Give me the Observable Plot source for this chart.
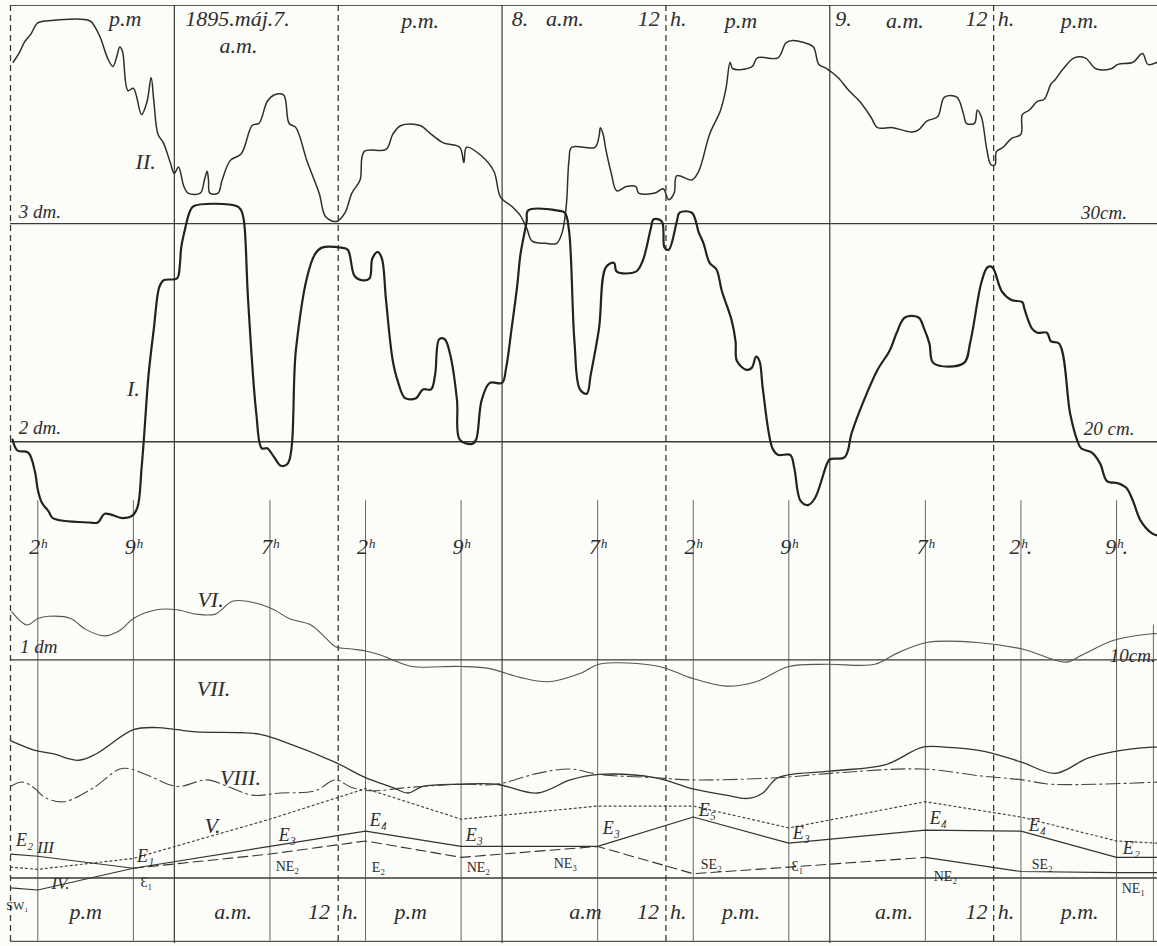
<!DOCTYPE html>
<html><head><meta charset="utf-8">
<script src="https://cdn.jsdelivr.net/npm/d3@7"></script>
<script src="https://cdn.jsdelivr.net/npm/@observablehq/plot@0.6"></script>
<style>html,body{margin:0;padding:0;background:#fcfcf8;} svg{display:block}</style>
</head><body><div id="chart"></div>
<script>
// x: hours counted from 1895 May 6, 0h ; y: water level / readings in cm
const seriesI = [[12.15,20.1],[12.5,19.6],[13.3,19.5],[13.8,18.6],[14.0,17.8],[14.3,17.2],[14.8,16.8],[15.1,16.5],[17.8,16.3],[18.4,16.3],[18.9,16.7],[20.2,16.5],[20.9,16.6],[21.3,17.0],[21.6,18.8],[21.8,20.4],[22.1,23.0],[22.5,25.2],[22.9,27.1],[23.2,27.4],[24.2,27.5],[24.4,28.1],[24.5,28.9],[24.8,29.8],[25.1,30.5],[25.4,30.8],[28.6,30.8],[28.9,30.6],[29.1,30.1],[29.4,26.5],[30.0,21.3],[30.4,19.7],[30.8,19.7],[31.3,19.3],[31.8,18.9],[32.3,19.0],[32.9,24.2],[33.7,27.5],[34.3,28.6],[34.8,28.9],[36.2,28.9],[36.7,28.8],[37.2,27.6],[37.8,27.4],[38.3,27.5],[38.5,28.4],[38.9,28.7],[39.2,28.4],[39.5,26.5],[40.0,23.7],[40.4,22.7],[40.9,22.0],[41.7,22.0],[42.2,22.4],[42.8,22.4],[43.1,23.1],[43.4,24.7],[43.8,24.7],[44.2,24.0],[44.7,21.9],[44.9,20.1],[45.8,19.9],[46.1,20.1],[46.5,21.9],[47.1,22.7],[48.0,22.7],[48.3,23.4],[48.7,25.2],[49.1,27.1],[49.35,28.6],[49.8,30.1],[49.9,30.6],[52.1,30.6],[52.6,30.5],[52.9,29.7],[53.3,24.6],[53.7,22.4],[54.2,22.2],[54.5,23.1],[55.1,25.2],[55.6,28.0],[56.2,28.2],[56.4,27.8],[57.8,27.8],[58.3,28.3],[58.9,29.8],[59.1,30.2],[59.7,30.1],[59.9,28.9],[60.2,28.8],[60.8,30.1],[61.0,30.5],[61.9,30.5],[62.4,29.6],[62.75,29.1],[63.2,28.2],[63.7,27.9],[64.1,26.9],[64.8,25.6],[65.1,24.6],[65.2,23.7],[65.9,23.3],[66.3,23.4],[66.6,23.9],[66.85,23.7],[67.1,22.4],[67.8,19.7],[68.2,19.4],[69.1,19.4],[69.4,18.8],[69.85,17.3],[70.4,17.1],[70.9,17.4],[71.8,19.0],[72.0,19.2],[73.1,19.3],[73.6,20.4],[74.5,21.9],[75.5,23.3],[76.4,24.2],[76.9,25.0],[77.5,25.7],[78.5,25.7],[78.9,25.2],[79.3,24.5],[79.6,23.6],[81.8,23.6],[82.3,24.6],[83.1,27.3],[83.55,28.0],[83.9,28.0],[84.6,26.9],[85.3,26.5],[86.1,26.4],[86.25,26.1],[86.8,25.2],[87.2,25.0],[87.9,25.0],[88.2,24.6],[88.8,24.5],[89.6,21.3],[90.1,20.1],[90.4,19.7],[91.2,19.5],[91.8,19.0],[92.3,18.2],[93.1,18.1],[93.7,17.9],[94.2,17.3],[94.75,16.4],[95.6,15.8],[96.0,15.7]];

const seriesII = [[12.2,37.4],[12.7,37.9],[13.0,38.3],[13.5,38.7],[14.0,39.2],[14.8,39.3],[17.8,39.3],[18.2,39.0],[18.6,38.5],[19.1,37.6],[19.5,37.2],[19.8,37.7],[20.0,38.1],[20.2,37.9],[20.6,36.1],[21.0,36.2],[21.6,35.0],[22.0,35.6],[22.3,36.7],[22.5,35.6],[22.8,34.1],[23.2,33.7],[23.7,32.8],[24.0,32.3],[24.3,32.6],[24.7,31.7],[25.0,31.4],[25.9,31.4],[26.2,32.0],[26.4,32.4],[26.5,32.0],[26.6,31.4],[27.2,31.4],[27.5,32.0],[28.1,32.9],[28.9,33.2],[29.7,34.5],[30.2,34.6],[30.8,35.6],[31.3,35.9],[32.0,35.9],[32.4,34.6],[32.9,34.4],[33.7,32.9],[34.6,31.4],[35.1,30.3],[35.9,30.1],[36.5,30.5],[37.0,31.4],[37.6,32.0],[37.9,33.3],[39.5,33.4],[40.0,34.1],[40.6,34.5],[42.0,34.5],[42.8,34.1],[43.7,33.7],[44.9,33.5],[45.2,32.8],[45.4,33.5],[46.5,33.1],[47.4,32.4],[47.9,31.2],[48.7,30.8],[49.3,30.4],[49.8,29.8],[50.2,29.2],[51.2,29.1],[52.0,29.1],[52.4,29.6],[52.7,30.8],[52.9,32.9],[53.1,33.5],[54.8,33.5],[55.1,34.0],[55.2,34.4],[55.4,34.1],[55.6,33.4],[56.0,32.3],[56.4,31.5],[57.1,31.7],[57.8,31.7],[58.0,31.4],[59.2,31.4],[59.8,31.6],[60.2,31.1],[60.6,31.4],[60.8,32.2],[61.9,32.0],[62.4,32.4],[63.2,34.1],[64.0,35.2],[64.4,36.2],[64.7,37.4],[64.9,37.1],[66.3,37.2],[66.7,37.6],[68.2,37.6],[68.8,38.3],[69.3,38.4],[70.1,38.3],[70.8,38.1],[71.2,37.3],[71.8,37.1],[72.6,36.7],[73.4,36.1],[74.2,35.6],[75.0,34.9],[75.5,34.4],[76.6,34.4],[78.0,34.2],[78.5,34.3],[79.1,34.7],[79.9,34.9],[80.4,35.8],[81.3,35.8],[81.8,35.0],[82.0,34.6],[82.6,34.6],[82.8,35.2],[83.1,34.9],[83.5,33.4],[83.8,32.7],[84.1,32.7],[84.2,33.3],[84.7,33.5],[85.3,33.9],[86.0,34.1],[86.1,35.0],[86.6,35.2],[87.2,35.6],[87.7,35.7],[88.2,36.4],[88.5,36.6],[89.1,37.1],[89.9,37.6],[90.7,37.6],[91.5,37.1],[92.6,37.1],[93.1,37.3],[94.2,37.4],[94.9,37.8],[95.3,37.3],[96.0,37.4]];

const seriesVI = [[12.1,12.2],[13.2,11.6],[14.0,11.9],[14.8,12.0],[16.4,11.9],[17.5,11.4],[18.9,11.1],[20.0,11.35],[21.0,11.9],[22.7,12.3],[24.2,12.3],[25.6,12.1],[27.0,12.1],[28.3,12.7],[30.0,12.6],[31.3,12.3],[32.4,11.9],[34.0,11.6],[35.1,11.0],[35.8,10.6],[37.0,10.5],[38.1,10.4],[39.2,10.2],[40.0,10.0],[41.4,9.7],[44.9,9.7],[47.1,9.6],[49.3,9.2],[51.4,9.0],[53.8,9.4],[55.1,9.8],[59.5,9.7],[61.7,9.2],[64.4,8.8],[66.6,9.0],[69.0,9.7],[71.8,9.8],[75.3,9.8],[76.9,10.3],[79.1,10.8],[82.8,10.8],[86.1,10.5],[89.3,9.9],[90.4,10.2],[92.8,10.9],[95.6,11.2],[96.0,11.2]];

const seriesVII = [[12.0,6.3],[13.8,5.85],[15.1,5.7],[17.0,5.4],[18.3,5.7],[21.0,6.8],[22.7,6.9],[24.2,6.8],[25.6,6.7],[30.2,6.6],[31.8,6.3],[35.8,5.3],[38.0,4.6],[40.0,4.15],[41.1,3.9],[42.2,4.2],[44.9,4.3],[47.6,4.3],[50.6,3.9],[53.0,4.5],[55.1,4.75],[59.2,4.6],[61.9,4.1],[64.4,3.8],[66.0,3.65],[67.1,3.9],[68.2,4.6],[72.0,4.9],[76.1,5.2],[78.8,6.0],[80.4,6.0],[83.4,5.8],[86.1,5.3],[88.5,4.8],[90.9,5.5],[92.8,5.8],[95.6,6.0],[96.0,6.0]];

const seriesVIII = [[12.0,4.2],[12.9,4.4],[13.8,4.1],[14.5,3.7],[15.9,3.5],[18.1,4.15],[20.0,5.0],[20.8,5.0],[22.1,4.7],[24.2,4.2],[26.4,4.5],[28.1,4.15],[29.7,3.8],[31.8,3.9],[34.3,4.0],[35.8,4.5],[37.0,4.15],[38.4,4.0],[41.1,4.15],[44.9,4.3],[47.6,4.3],[50.6,4.8],[53.0,5.0],[55.1,4.75],[59.2,4.6],[61.9,4.5],[68.2,4.6],[72.0,4.8],[78.8,5.0],[82.8,4.7],[86.1,4.5],[88.2,4.3],[96.0,4.4]];

const seriesV = [[12,0.5],[14,0.4],[21,0.9],[31,2.7],[38,4.1],[45,2.7],[55,3.3],[62,3.3],[69,2.3],[79,3.5],[86,2.8],[93,1.7],[96,1.6]];
const seriesIII = [[12,1.1],[14,1.0],[21,0.45],[31,1.45],[38,2.15],[45,1.45],[55,1.45],[62,2.8],[69,1.6],[79,2.2],[86,2.15],[93,0.95],[96,0.95]];
const seriesIV = [[12,-0.45],[14,-0.55],[21,0.45],[31,1.1],[38,1.7],[45,0.95],[55,1.45],[62,0.2],[69,0.5],[79,0.95],[86,0.3],[93,0.25],[96,0.25]];

// grid
const levels = [30, 20, 10, 0];
const frameLevels = [40, -2.9];
const midnights = [24, 48, 72];
const noons = [12, 36, 60, 84];
const obsHours = [14, 21, 31, 38, 45, 55, 62, 69, 79, 86, 93];
const obsTexts = ["2ʰ","9ʰ","7ʰ","2ʰ","9ʰ","7ʰ","2ʰ","9ʰ","7ʰ","2ʰ.","9ʰ."];

// annotations (text, hour, level, anchor)
const topLabels = [
 {t:"p.m", h:20.4, v:39.4, a:"middle"},
 {t:"1895.máj.7.", h:24.8, v:39.4, a:"start"},
 {t:"a.m.", h:28.7, v:38.15, a:"middle"},
 {t:"p.m.", h:42.0, v:39.3, a:"middle"},
 {t:"8.", h:48.7, v:39.4, a:"start"},
 {t:"a.m.", h:52.6, v:39.4, a:"middle"},
 {t:"12", h:59.55, v:39.4, a:"end"},
 {t:"h.", h:60.3, v:39.4, a:"start"},
 {t:"p.m", h:65.5, v:39.3, a:"middle"},
 {t:"9.", h:72.4, v:39.4, a:"start"},
 {t:"a.m.", h:77.5, v:39.3, a:"middle"},
 {t:"12", h:83.55, v:39.4, a:"end"},
 {t:"h.", h:84.3, v:39.4, a:"start"},
 {t:"p.m.", h:90.3, v:39.3, a:"middle"}
];
const bottomLabels = [
 {t:"p.m", h:17.5, v:-1.55, a:"middle"},
 {t:"a.m.", h:28.3, v:-1.55, a:"middle"},
 {t:"12", h:35.4, v:-1.55, a:"end"},
 {t:"h.", h:36.25, v:-1.55, a:"start"},
 {t:"p.m", h:41.3, v:-1.55, a:"middle"},
 {t:"a.m", h:54.1, v:-1.55, a:"middle"},
 {t:"12", h:59.5, v:-1.55, a:"end"},
 {t:"h.", h:60.3, v:-1.55, a:"start"},
 {t:"p.m.", h:65.5, v:-1.55, a:"middle"},
 {t:"a.m.", h:76.7, v:-1.55, a:"middle"},
 {t:"12", h:83.55, v:-1.55, a:"end"},
 {t:"h.", h:84.3, v:-1.55, a:"start"},
 {t:"p.m.", h:90.3, v:-1.55, a:"middle"}
];
const scaleLabels = [
 {t:"3 dm.", h:12.6, v:30.55, a:"start"},
 {t:"30cm.", h:90.4, v:30.5, a:"start"},
 {t:"2 dm.", h:12.6, v:20.65, a:"start"},
 {t:"20 cm.", h:90.6, v:20.6, a:"start"},
 {t:"1 dm", h:12.7, v:10.6, a:"start"},
 {t:"10cm.", h:92.5, v:10.2, a:"start"}
];
const curveLabels = [
 {t:"II.", h:21.9, v:32.85, a:"middle"},
 {t:"I.", h:21.0, v:22.44, a:"middle"},
 {t:"VI.", h:26.65, v:12.73, a:"middle"},
 {t:"VII.", h:26.87, v:8.69, a:"middle"},
 {t:"VIII.", h:28.84, v:4.61, a:"middle"},
 {t:"V.", h:26.79, v:2.41, a:"middle"}
];
const smallCurveLabels = [
 {t:"III", h:14.56, v:1.4, a:"middle"},
 {t:"IV.", h:15.66, v:-0.25, a:"middle"}
];
const windAbove = [
 {t:"E₂", h:13.03, v:1.72}, {t:"E₁", h:21.89, v:0.99}, {t:"E₃", h:32.28, v:1.95},
 {t:"E₄", h:38.95, v:2.64}, {t:"E₃", h:45.98, v:1.95}, {t:"E₃", h:56.01, v:2.27},
 {t:"E₅", h:63.04, v:3.1}, {t:"E₃", h:69.92, v:2.04}, {t:"E₄", h:79.96, v:2.73},
 {t:"E₄", h:87.2, v:2.41}, {t:"E₂", h:94.09, v:1.36}
];
const windBelow = [
 {t:"Ɛ₁", h:21.96, v:-0.2}, {t:"NE₂", h:32.28, v:0.53}, {t:"E₂", h:38.95, v:0.49},
 {t:"NE₂", h:46.27, v:0.49}, {t:"NE₃", h:52.64, v:0.67}, {t:"SE₂", h:63.33, v:0.62},
 {t:"Ɛ₁", h:69.63, v:0.53}, {t:"NE₂", h:80.47, v:0.07}, {t:"SE₂", h:87.57, v:0.62},
 {t:"NE₁", h:94.24, v:-0.48}
];
const swLabel = [{t:"SW₁", h:12.5, v:-1.3}];

const ink = "#2e2e2e";
const serif = "Liberation Serif";
const X = d => d[0], Y = d => d[1];

function labelMarks(arr, opts) {
  return ["start","middle","end"].map(a =>
    Plot.text(arr.filter(d => (d.a || "middle") === a), {
      x: "h", y: "v", text: "t", textAnchor: a, fill: ink,
      fontFamily: serif, fontStyle: "italic", ...opts
    })
  );
}

const chart = Plot.plot({
  width: 1157, height: 946,
  marginLeft: 10, marginRight: 0, marginTop: 5, marginBottom: 3,
  x: {domain: [12, 96], axis: null},
  y: {domain: [-3, 40], axis: null},
  style: {background: "#fcfcf8"},
  marks: [
    Plot.ruleY(levels, {stroke: "#3a3a3a", strokeWidth: 1.4}),
    Plot.ruleY(frameLevels, {stroke: "#555", strokeWidth: 1.2}),
    Plot.ruleX(midnights, {stroke: "#3a3a3a", strokeWidth: 1.2}),
    Plot.ruleX(noons, {stroke: "#3a3a3a", strokeWidth: 1.3, strokeDasharray: "6,4"}),
    Plot.ruleX(obsHours, {y1: -2.9, y2: 17.3, stroke: "#555", strokeWidth: 0.9}),
    Plot.ruleX([95.7], {y1: -2.9, y2: 11.6, stroke: "#555", strokeWidth: 0.9}),

    Plot.line(seriesII, {x: X, y: Y, curve: "catmull-rom", stroke: ink, strokeWidth: 1.5}),
    Plot.line(seriesI, {x: X, y: Y, curve: "catmull-rom", stroke: "#222", strokeWidth: 2.2}),
    Plot.line(seriesVI, {x: X, y: Y, curve: "catmull-rom", stroke: "#555", strokeWidth: 1.1}),
    Plot.line(seriesVII, {x: X, y: Y, curve: "catmull-rom", stroke: "#333", strokeWidth: 1.3}),
    Plot.line(seriesVIII, {x: X, y: Y, curve: "catmull-rom", stroke: "#444", strokeWidth: 1.1, strokeDasharray: "14,4,2,4"}),
    Plot.line(seriesV, {x: X, y: Y, stroke: "#444", strokeWidth: 1.2, strokeDasharray: "2,3"}),
    Plot.line(seriesIII, {x: X, y: Y, stroke: "#333", strokeWidth: 1.2}),
    Plot.line(seriesIV.filter(d => d[0] >= 21 && d[0] <= 79), {x: X, y: Y, stroke: "#333", strokeWidth: 1.1, strokeDasharray: "10,5"}),
    Plot.line(seriesIV.filter(d => d[0] <= 21), {x: X, y: Y, stroke: "#333", strokeWidth: 1.1}),
    Plot.line(seriesIV.filter(d => d[0] >= 79), {x: X, y: Y, stroke: "#333", strokeWidth: 1.1}),

    ...labelMarks(topLabels, {fontSize: 22}),
    ...labelMarks(bottomLabels, {fontSize: 22}),
    ...labelMarks(scaleLabels, {fontSize: 19}),
    ...labelMarks(curveLabels, {fontSize: 22}),
    ...labelMarks(smallCurveLabels, {fontSize: 17}),
    Plot.text(obsHours, {x: d => d, y: 15.2, text: (d, i) => obsTexts[i], fontSize: 22, fontStyle: "italic", fontFamily: serif, fill: ink}),
    Plot.text(windAbove, {x: "h", y: "v", text: "t", fontSize: 18, fontStyle: "italic", fontFamily: serif, fill: ink}),
    Plot.text(windBelow, {x: "h", y: "v", text: "t", fontSize: 14, fontFamily: serif, fill: ink}),
    Plot.text(swLabel, {x: "h", y: "v", text: "t", fontSize: 12, fontFamily: serif, fill: ink})
  ]
});
document.getElementById("chart").appendChild(chart);
</script></body></html>
